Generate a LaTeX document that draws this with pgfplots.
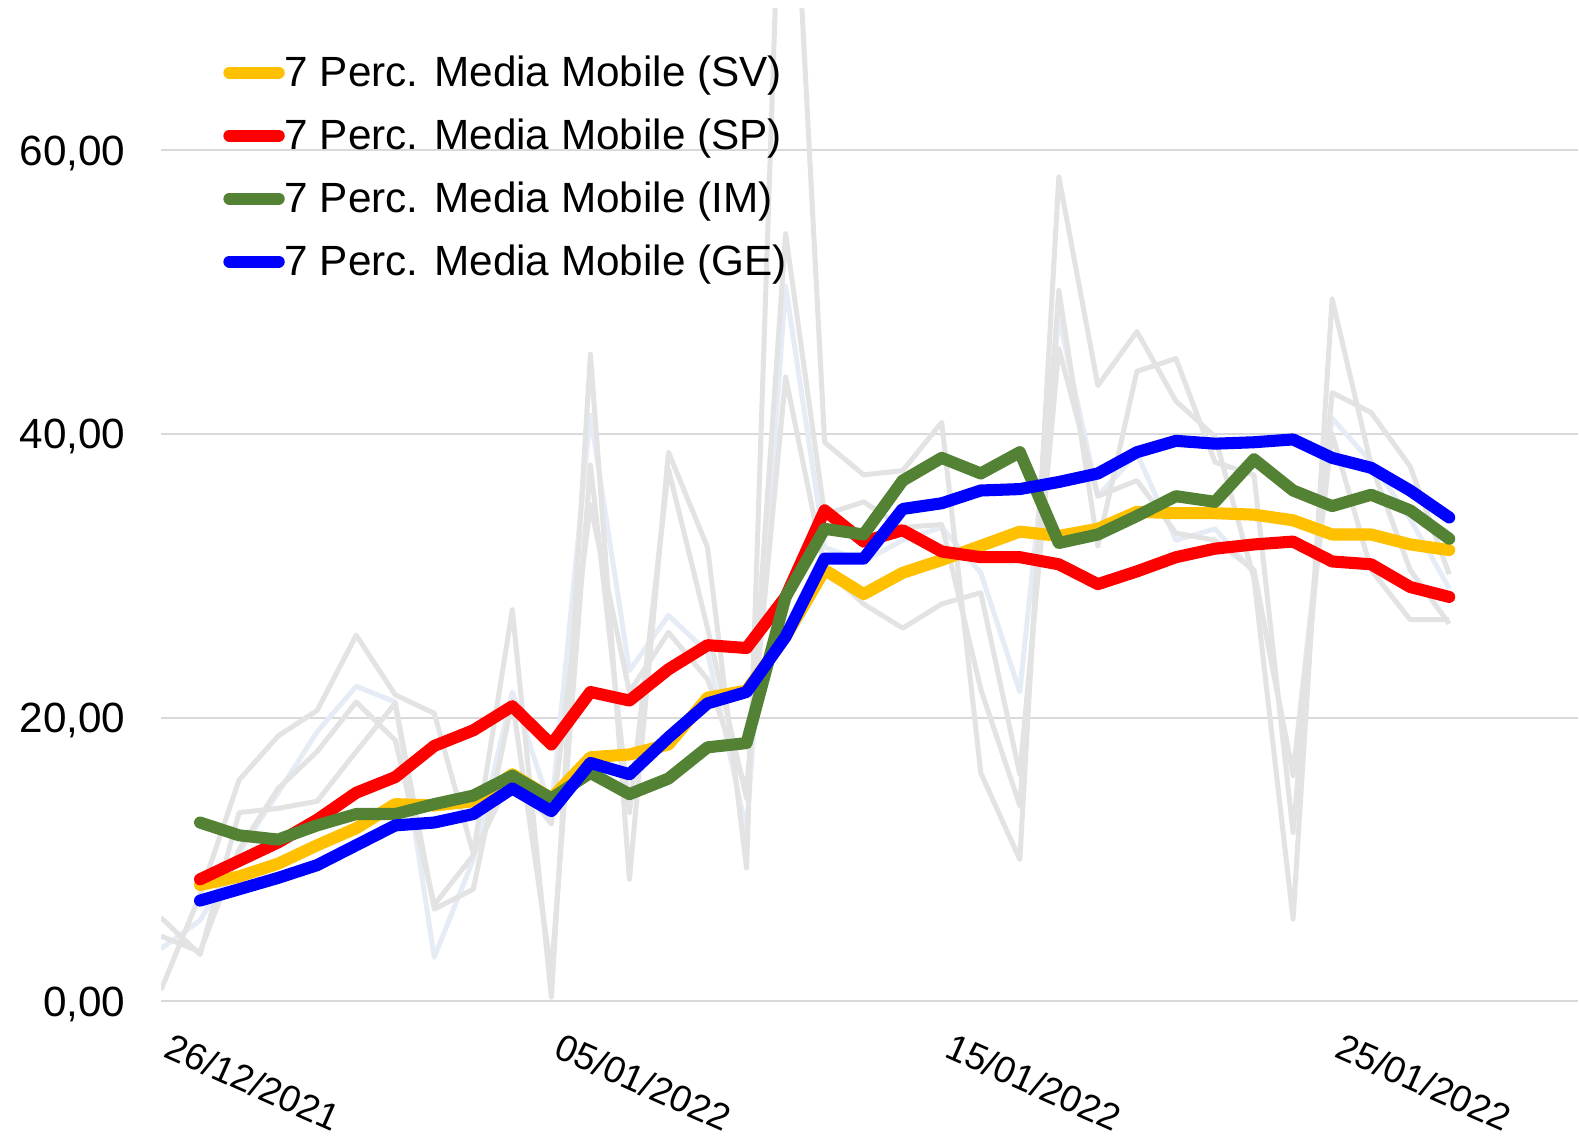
\documentclass[border=0pt]{standalone}
\usepackage{fontspec}
\setmainfont{Liberation Sans}
\usepackage{pgfplots}
\usepackage{pgfplotstable}
\pgfplotsset{compat=1.18}
\definecolor{cSV}{HTML}{FFC000}
\definecolor{cSP}{HTML}{FF0000}
\definecolor{cIM}{HTML}{548235}
\definecolor{cGE}{HTML}{0000FF}
\definecolor{graw}{HTML}{E3E3E3}
\definecolor{grawb}{HTML}{E6ECF6}
\definecolor{gridc}{HTML}{D9D9D9}

\pgfplotstableread{
d  sv   sp   im   ge
1  8.2  8.6  12.6 7.1
2  8.8  9.9  11.7 7.9
3  9.7  11.2 11.4 8.7
4  11.0 12.8 12.4 9.6
5  12.2 14.7 13.2 11.0
6  13.9 15.8 13.2 12.4
7  13.8 18.0 13.9 12.6
8  14.1 19.1 14.5 13.2
9  16.0 20.8 15.9 15.0
10 14.3 18.1 14.3 13.4
11 17.2 21.8 16.1 16.8
12 17.4 21.2 14.6 16.0
13 18.1 23.4 15.7 18.6
14 21.4 25.1 17.9 21.0
15 21.9 24.9 18.2 21.8
16 25.7 28.5 28.5 25.7
17 30.4 34.6 33.3 31.2
18 28.7 32.4 32.9 31.2
19 30.2 33.2 36.7 34.7
20 31.1 31.7 38.3 35.1
21 32.1 31.3 37.2 36.0
22 33.1 31.3 38.7 36.1
23 32.8 30.8 32.3 36.6
24 33.3 29.4 32.9 37.2
25 34.5 30.3 34.2 38.7
26 34.4 31.3 35.6 39.5
27 34.4 31.9 35.2 39.3
28 34.3 32.2 38.2 39.4
29 33.9 32.4 36.0 39.6
30 32.9 31.0 34.9 38.3
31 32.9 30.8 35.7 37.6
32 32.2 29.2 34.6 36.0
33 31.8 28.5 32.6 34.1
}\tabMA

\pgfplotstableread{
d  s1   s2   s3   s4
0  0.8  5.9  4.6  3.7
1  7.5  3.3  3.5  5.7
2  15.6 13.3 10.7 10.5
3  18.7 13.6 15.0 14.7
4  20.5 14.1 17.6 19.0
5  25.8 17.6 21.1 22.2
6  21.6 21.0 18.4 21.1
7  20.3 6.5  6.8  3.1
8  10.4 7.9  10.3 10.0
9  27.6 21.2 16.0 21.8
10 0.3  2.0  12.5 13.5
11 45.6 37.8 35.0 41.3
12 8.6  13.3 21.8 23.3
13 38.7 37.5 26.0 27.2
14 32.0 26.3 22.7 24.6
15 9.4  14.3 14.9 12.0
16 92.0 54.1 44.0 50.4
17 39.4 34.3 30.5 32.0
18 37.1 35.2 28.0 31.0
19 37.4 33.4 26.3 32.5
20 40.8 33.6 28.0 33.4
21 16.1 22.0 28.8 30.2
22 10.0 13.8 16.0 21.8
23 58.1 50.1 46.0 48.2
24 43.4 32.1 35.6 35.6
25 47.2 44.4 36.7 38.6
26 42.3 45.3 33.0 32.5
27 39.8 38.0 32.5 33.3
28 29.8 37.1 30.4 30.2
29 5.8  11.9 15.9 16.1
30 49.5 42.9 40.0 41.1
31 37.8 41.5 30.4 38.0
32 30.4 37.7 26.9 34.0
33 26.6 30.1 26.9 29.1
}\tabRaw

\begin{document}
\begin{tikzpicture}
\begin{axis}[
  scale only axis,
  width=704bp, height=493.5bp,
  xmin=0, xmax=36.3, ymin=0, ymax=70,
  axis line style={draw=none},
  major tick length=0pt,
  ymajorgrids,
  grid style={gridc, line width=1bp},
  ytick={0,20,40,60},
  xtick={0,10,20,30},
  xticklabels={26/12/2021,05/01/2022,15/01/2022,25/01/2022},
  /pgf/number format/assume math mode=true,
  yticklabel style={font=\fontsize{21bp}{25bp}\selectfont, anchor=base east, inner sep=0pt, xshift=-17.5bp, yshift=-7.5bp,
    /pgf/number format/.cd, fixed, fixed zerofill, precision=2, use comma},
  xticklabel style={font=\fontsize{18.5bp}{22bp}\selectfont, rotate=-24, anchor=north west, inner sep=0pt, xshift=11.5bp, yshift=-11bp},
  legend style={draw=none, fill=none, inner sep=0pt, outer sep=0pt,
    at={(rel axis cs:0.044,0.954)}, anchor=north west,
    font=\fontsize{21bp}{25bp}\selectfont,
    nodes={inner sep=1bp}, row sep=12.6bp, column sep=-1bp},
  legend cell align=left,
  legend image code/.code={\draw[#1, line cap=round] (0bp,0bp) -- (24.5bp,0bp);},
]
\addplot[grawb, line width=2.5bp, line join=round, forget plot] table[x=d,y=s4] {\tabRaw};
\addplot[graw, line width=2.5bp, line join=round, forget plot] table[x=d,y=s3] {\tabRaw};
\addplot[graw, line width=2.5bp, line join=round, forget plot] table[x=d,y=s2] {\tabRaw};
\addplot[graw, line width=2.5bp, line join=round, forget plot] table[x=d,y=s1] {\tabRaw};
\addplot[cSV, line width=6bp, line join=round, line cap=round] table[x=d,y=sv] {\tabMA};
\addlegendentry{7 Perc. Media Mobile (SV)}
\addplot[cSP, line width=6bp, line join=round, line cap=round] table[x=d,y=sp] {\tabMA};
\addlegendentry{7 Perc. Media Mobile (SP)}
\addplot[cIM, line width=6bp, line join=round, line cap=round] table[x=d,y=im] {\tabMA};
\addlegendentry{7 Perc. Media Mobile (IM)}
\addplot[cGE, line width=6bp, line join=round, line cap=round] table[x=d,y=ge] {\tabMA};
\addlegendentry{7 Perc. Media Mobile (GE)}
\end{axis}
\path (current axis.south west) ++(-80bp,-66.5bp) rectangle ([yshift=4bp]current axis.north east);
\end{tikzpicture}
\end{document}
